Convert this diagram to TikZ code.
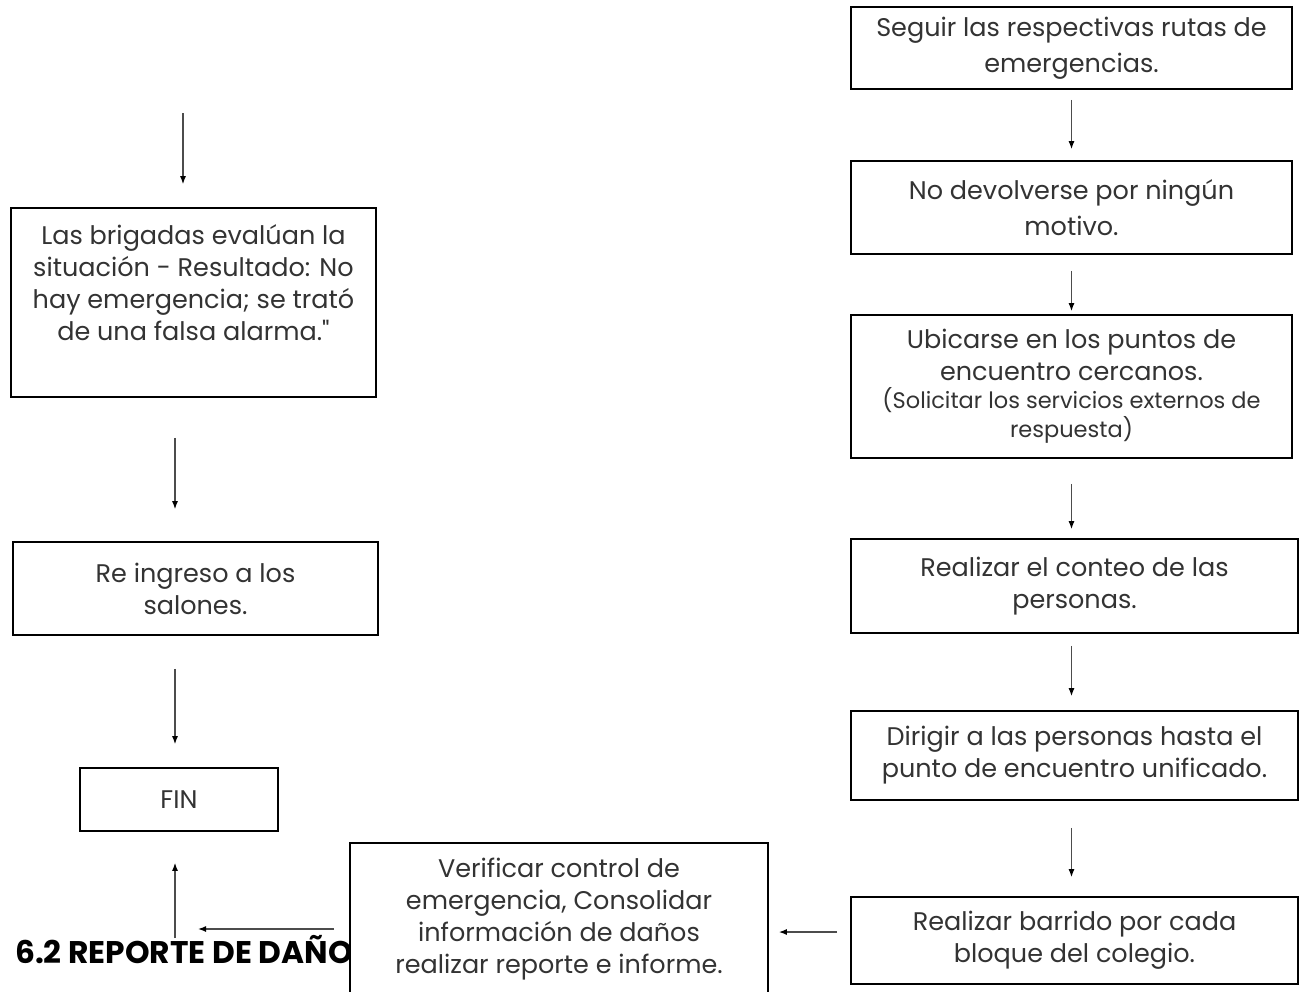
\documentclass[tikz,border=0pt]{standalone}
\usepackage{fontspec}
\setmainfont{Poppins}[Ligatures=TeXOff]
\usetikzlibrary{arrows.meta}

\begin{document}
\begin{tikzpicture}[x=1pt,y=-1pt,
	caja/.style={draw=black, line width=1.6pt, fill=white, align=center,
        inner sep=0pt, text=black!80, font=\fontsize{25.5}{32}\selectfont},
	flecha/.style={draw=black!70, line width=1.4pt,
        -{Latex[length=8pt,width=6pt,color=black]}}]

	\useasboundingbox (0,0) rectangle (1299,991);

	% columna derecha
	\node[caja, minimum width=441, minimum height=82, font=\fontsize{25.5}{36}\selectfont]
        (seguir) at (1071.5,48) {Seguir las respectivas rutas de\\emergencias.};
	\node[caja, minimum width=441, minimum height=93, font=\fontsize{25.5}{36}\selectfont]
        (nodev) at (1071.5,207.5) {No devolverse por ningún\\motivo.};
	\node[caja, minimum width=441, minimum height=143] (ubicar) at (1071.5,386.5)
        {Ubicarse en los puntos de\\encuentro cercanos.\\[-4pt]
        {\fontsize{22.5}{28}\selectfont (Solicitar los servicios externos de}\\[-3pt]
        {\fontsize{22.5}{28}\selectfont respuesta)}};
	\node[caja, minimum width=447, minimum height=94] (conteo) at (1074.5,586)
        {Realizar el conteo de las\\personas.};
	\node[caja, minimum width=447, minimum height=89] (dirigir) at (1074.5,755.5)
        {Dirigir a las personas hasta el\\punto de encuentro unificado.};
	\node[caja, minimum width=447, minimum height=87] (barrido) at (1074.5,940.5)
        {Realizar barrido por cada\\bloque del colegio.};

	% columna izquierda
	\node[caja, minimum width=365, minimum height=189] (brigadas) at (193.5,302.5)
        {Las brigadas evalúan la\\situación - Resultado: No\\hay emergencia; se trató\\de una falsa alarma."\\[8pt]\mbox{}};
	\node[caja, minimum width=365, minimum height=93] (reingreso) at (195.5,588.5)
        {Re ingreso a los\\salones.};
	\node[caja, minimum width=198, minimum height=63] (fin) at (179,799.5) {FIN};

	\node[anchor=base west, inner sep=0pt, font=\bfseries\fontsize{31.3}{35}\selectfont]
        (titulo) at (15,963) {6.2 REPORTE DE DAÑO};

	\node[caja, minimum width=418, minimum height=152] (verificar) at (559,919)
        {Verificar control de\\emergencia, Consolidar\\información de daños\\realizar reporte e informe.};

	\coordinate (inicio) at (183,113);
	\coordinate (esquina) at (198,929);
	\coordinate (pie) at (175,938);

	% flechas
	\draw[flecha, shorten >=23] (inicio) -- ([xshift=-10.5]brigadas.north);
	\draw[flecha, shorten <=40, shorten >=32] ([xshift=-18.5]brigadas.south) -- ([xshift=-20.5]reingreso.north);
	\draw[flecha, shorten <=33, shorten >=23] ([xshift=-20.5]reingreso.south) -- ([xshift=-4]fin.north);

	\draw[flecha, shorten <=10, shorten >=11] (seguir) -- (nodev);
	\draw[flecha, shorten <=16, shorten >=3] (nodev) -- (ubicar);
	\draw[flecha, shorten <=25, shorten >=9] (ubicar) -- (conteo.north -| ubicar);
	\draw[flecha, shorten <=12, shorten >=14] (conteo.south -| ubicar) -- (dirigir.north -| ubicar);
	\draw[flecha, shorten <=27, shorten >=19] (dirigir.south -| ubicar) -- (barrido.north -| ubicar);

	\draw[flecha, shorten <=13, shorten >=10] ([yshift=8.5]barrido.west) -- ([yshift=8.5]barrido.west -| verificar.east);
	\draw[flecha, shorten <=15] (verificar.west |- esquina) -- (esquina);
	\draw[flecha, shorten >=31] (pie) -- (fin.south -| pie);
\end{tikzpicture}
\end{document}
